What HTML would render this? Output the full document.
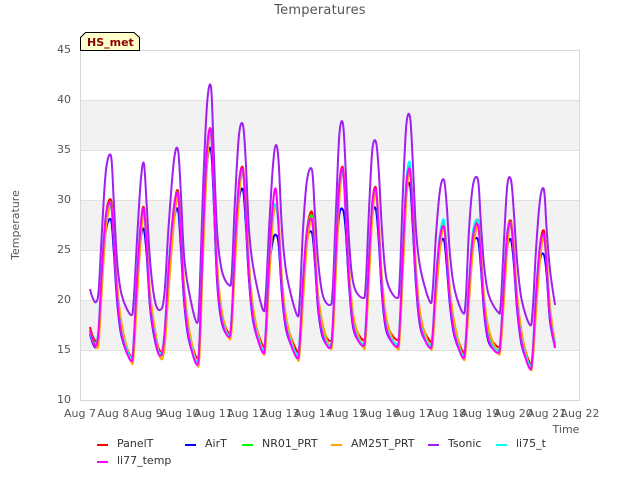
<!DOCTYPE html>
<html>
<head>
<meta charset="utf-8">
<title>Temperatures</title>
<style>
html,body{margin:0;padding:0;background:#fff;width:640px;height:480px;overflow:hidden}
svg{display:block}
text{font-family:"DejaVu Sans",sans-serif;fill:#555;font-size:11px}
.leg text{fill:#333}
</style>
</head>
<body>
<svg id="chart" width="640" height="480" viewBox="0 0 640 480" xmlns="http://www.w3.org/2000/svg">
<text x="320" y="14" text-anchor="middle" style="font-size:13px;letter-spacing:.2px">Temperatures</text>
<g id="bands"></g>
<g id="grid"></g>
<rect x="80.5" y="50.5" width="499" height="350" fill="none" stroke="#d8d8d8"/>
<g id="series"></g>
<g id="yticks"></g>
<g id="xticks"></g>
<text x="19" y="225" text-anchor="middle" transform="rotate(-90 19 225)">Temperature</text>
<text x="566" y="433" text-anchor="middle">Time</text>
<g>
<polygon points="80.5,50.5 80.5,37.5 85.5,32.5 134,32.5 139.5,37.5 139.5,50.5" fill="#ffffcc" stroke="#000" stroke-width="1"/>
<text x="87" y="46" style="font-size:11px;font-weight:bold;fill:#8b0000">HS_met</text>
</g>
<g class="leg">
<g><rect x="97" y="444" width="11" height="2" fill="#ff0000"/><text x="117" y="447">PanelT</text></g>
<g><rect x="185" y="444" width="11" height="2" fill="#0000ff"/><text x="205" y="447">AirT</text></g>
<g><rect x="242" y="444" width="11" height="2" fill="#00ff00"/><text x="262" y="447">NR01_PRT</text></g>
<g><rect x="331" y="444" width="11" height="2" fill="#ffa500"/><text x="351" y="447">AM25T_PRT</text></g>
<g><rect x="428" y="444" width="11" height="2" fill="#a020f0"/><text x="448" y="447">Tsonic</text></g>
<g><rect x="496" y="444" width="11" height="2" fill="#00ffff"/><text x="516" y="447">li75_t</text></g>
<g><rect x="97" y="461" width="11" height="2" fill="#ff00ff"/><text x="117" y="464">li77_temp</text></g>
</g>
</svg>
<script>
var xTickLabels = ["Aug 7","Aug 8","Aug 9","Aug 10","Aug 11","Aug 12","Aug 13","Aug 14","Aug 15","Aug 16","Aug 17","Aug 18","Aug 19","Aug 20","Aug 21","Aug 22"];
var yTickLabels = [10,15,20,25,30,35,40,45];
var times = [.30,.38,
.48,.56,.66,.78,.93,1.01,1.11,1.25,
1.53,1.61,1.71,1.83,1.92,2.00,2.10,2.24,
2.40,2.53,2.66,2.82,2.94,3.02,3.12,3.26,
3.51,3.59,3.69,3.81,3.93,4.01,4.11,4.25,
4.47,4.55,4.65,4.77,4.89,4.97,5.07,5.21,
5.49,5.57,5.67,5.79,5.88,5.96,6.06,6.20,
6.51,6.59,6.69,6.81,6.96,7.04,7.14,7.28,
7.50,7.58,7.68,7.78,7.89,7.97,8.07,8.21,
8.49,8.57,8.67,8.77,8.88,8.96,9.06,9.20,
9.51,9.59,9.69,9.79,9.90,9.98,10.08,10.22,
10.50,10.58,10.68,10.80,10.92,11.00,11.10,11.24,
11.49,11.57,11.67,11.79,11.94,12.02,12.12,12.26,
12.54,12.62,12.72,12.82,12.93,13.01,13.11,13.25,
13.50,13.58,13.68,13.80,13.92,14.00,14.10,14.25];
var panelT = [17.3,16.4,
15.9,17,22.8,28.6,30,26.8,21.3,17.2,
14.3,15.6,21.8,27.9,29.2,26,20.4,17,
14.9,16.2,22.9,29.3,30.9,27.2,21.3,17,
14.2,16.2,26,35,37,31.6,23.2,18.7,
16.7,18.2,25.1,31.8,33.2,29.5,23.3,18.5,
15.4,16.6,23.3,28.5,29.5,27.5,21.8,17.7,
14.9,15.7,21.4,27,28.8,25.2,20.3,17.2,
15.9,17.2,24.6,31.6,33.2,29.2,22.8,17.9,
16,17.1,23.6,29.8,31.2,27.6,21.8,17.7,
16,17.3,24.6,31.6,33.3,29.2,22.8,18,
15.9,16.5,21.6,26.4,27.8,25,20.6,17.2,
14.8,15.7,21.1,26.5,28,24.9,20.1,16.7,
15.3,16.1,21.4,26.7,27.9,25.2,20.4,16.4,
13.7,14.6,20.1,25.5,26.9,23.9,19,15.7];
var airT = [16.6,15.7,
15.3,16.8,22.5,27,28,25,20,16.3,
14,15.5,21.5,26.3,27,24.5,19.3,16.1,
14.4,16,22.6,28,29,25.5,20,16.1,
13.8,16,25.5,33.5,35,30,22,17.8,
16.4,18,24.8,30,31,27.8,22,17.6,
14.9,16.5,23,26,26.5,25.5,20.5,16.8,
14.4,15.6,21,26,26.7,24,19.2,16.3,
15.4,17,24.2,28.5,29,27,21.5,17,
15.6,17,23.3,28.5,29,26,20.5,16.8,
15.5,17.2,24.3,30.5,31.5,27.5,21.5,17.1,
15.4,16.4,21.3,25.3,26,23.5,19.4,16.3,
14.4,15.6,20.8,25.5,26,23.5,18.9,15.8,
14.9,16,21.2,25.3,26,23.8,19.2,15.5,
13.3,14.5,19.9,24,24.5,22.5,17.9,15.3];
var nr01 = [17,16.1,
15.6,17,23,28.4,29.7,26.3,20.8,16.8,
14.1,15.7,22,27.7,29,25.6,19.9,16.6,
14.6,16.2,23.1,29.2,30.7,26.8,20.8,16.6,
13.8,16.2,26.2,34.8,36.8,31.2,22.8,18.2,
16.5,18.2,25.3,31.6,33,29,22.8,18.1,
15,16.6,23.5,28.8,29.4,27.2,21.3,17.3,
14.5,15.7,21.6,26.8,28.4,24.9,19.8,16.8,
15.5,17.2,24.8,31.4,33,28.8,22.3,17.5,
15.6,17.1,23.8,29.6,31,27.3,21.3,17.3,
15.6,17.3,24.8,31.4,33.1,28.8,22.3,17.6,
15.5,16.5,21.8,26.2,27.5,24.6,20.1,16.8,
14.5,15.7,21.3,26.3,27.6,24.5,19.6,16.3,
15,16.1,21.6,26.5,27.7,24.8,19.9,16,
13.4,14.6,20.3,25.3,26.5,23.5,18.5,15.5];
var am25t = [16.9,15.9,
15.3,15.8,21.2,27.2,29.5,27,21.8,17.6,
13.9,14.5,20,26.4,28.8,26.3,20.9,17.2,
14.3,15,21,27.8,30.5,27.5,21.8,17.4,
13.6,14.8,24.2,33.4,36.8,32,24,19,
16.2,17.2,23.4,30.2,33,29.8,23.8,18.9,
14.8,15.6,21.6,28,29.2,27.9,22.2,18,
14.2,14.8,19.8,25.5,28.2,25.5,20.7,17.6,
15.2,16.2,22.9,30,33,29.6,23.3,18.3,
15.3,16.1,22,28.2,31,28,22.3,18,
15.2,16.2,23,30,33,29.6,23.3,18.4,
15.3,15.7,20.2,25,27.6,25.2,21,17.6,
14.2,14.9,19.6,25,27.5,25.2,20.5,17.1,
14.7,15.3,20,25.2,27.7,25.5,20.8,16.8,
13.2,13.9,18.7,24,26.5,24.2,19.4,15.6];
var tsonic = [21.1,20.2,
19.8,21,27,33,34.4,30,24,20.5,
18.5,20,26,32.2,33.6,29.5,24,20,
19,20.5,27.5,34,35,31,24.5,21,
17.7,21,31,39.5,41.3,35,27,23,
21.5,22.5,30,36.5,37.5,34,27,23,
19,20.5,27,33.5,35.5,33.7,27,22.5,
18.5,20,27,32,33,29,24,20.5,
19.5,21,29,36.5,37.6,33,26,21.5,
20.2,21.5,29,35,35.8,33,27,22,
20.2,22,31,37.5,38.3,34,27,23,
19.8,21,26.5,31,32,29.5,24.5,21,
18.7,20,27,31.5,32,28,23.5,20.5,
18.8,19.5,26,31.5,32,29,24,20,
17.5,19,25,30,31,27,23,19.5];
var li75 = [16.8,15.9,
15.5,17.4,23.6,28.6,29.4,26.1,20.7,16.7,
14.2,16,22.6,27.9,28.8,25.5,19.8,16.5,
14.6,16.6,23.7,29.4,30.5,26.6,20.7,16.5,
13.8,16.6,26.8,35.1,36.7,31,22.7,18.2,
16.5,18.6,25.9,31.8,32.8,28.9,22.7,18,
15,17,24.1,29,29.3,27.1,21.2,17.2,
14.5,16.1,22.2,27,28,24.8,19.7,16.7,
15.4,17.6,25.4,31.6,32.7,28.6,22.2,17.4,
15.6,17.5,24.4,29.8,30.8,27.1,21.2,17.2,
15.6,17.7,25.4,32,33.7,28.8,22.2,17.5,
15.4,16.9,22.4,26.6,28,24.5,20,16.7,
14.4,16.1,21.9,26.9,27.9,24.4,19.5,16.2,
14.9,16.5,22.2,26.8,27.5,24.6,19.8,15.9,
13.4,15,20.9,25.5,26.3,23.4,18.4,15.5];
var li77 = [17,16,
15.4,17.1,23.2,28.5,29.6,26,20.5,16.5,
13.9,15.7,22.2,27.8,29,25.3,19.6,16.3,
14.4,16.3,23.3,29.3,30.6,26.5,20.5,16.3,
13.5,16.3,26.4,35,36.9,31,22.5,18,
16.3,18.3,25.5,31.7,33,28.8,22.5,17.8,
14.7,16.7,23.7,29.7,31,27,21,17,
14.2,15.8,21.8,26.9,28,24.6,19.5,16.5,
15.2,17.3,25,31.5,33,28.5,22,17.2,
15.4,17.2,24,29.7,31,27,21,17,
15.3,17.4,25,31.5,33,28.5,22,17.3,
15.2,16.6,22,26.3,27.3,24.3,19.8,16.5,
14.2,15.8,21.5,26.4,27.5,24.2,19.3,16,
14.7,16.2,21.8,26.6,27.6,24.5,19.6,15.7,
13.1,14.7,20.5,25.4,26.5,23.2,18.2,15.2];

var NS = 'http://www.w3.org/2000/svg';
function xScale(d){ return 80 + d * (500 / 15); }
function yScale(v){ return 400 - (v - 10) * 10; }
function add(parent, tag, attrs){
  var el = document.createElementNS(NS, tag);
  for (var k in attrs) el.setAttribute(k, attrs[k]);
  document.getElementById(parent).appendChild(el);
  return el;
}
yTickLabels.forEach(function(v, i){
  if (v < 45 && i % 2 === 1) {
    var band = add('bands', 'rect', {x: 80, y: yScale(v + 5), width: 500, height: yScale(v) - yScale(v + 5), fill: '#f2f2f2'});
    
    
  }
  var line = add('grid', 'line', {x1: 80, x2: 580, y1: yScale(v) + .5, y2: yScale(v) + .5, stroke: '#e0e0e0'});
  
  
  var label = add('yticks', 'text', {x: 71, y: yScale(v) + 3, 'text-anchor': 'end'});
  
  
  label.textContent = v;
});
xTickLabels.forEach(function(t, i){
  var label = add('xticks', 'text', {x: xScale(i), y: 417, 'text-anchor': 'middle'});
  
  
  label.textContent = t;
});
function smoothPath(values){
  var p = values.map(function(v, i){ return [xScale(times[i]), yScale(v)]; });
  var d = 'M' + p[0][0].toFixed(1) + ' ' + p[0][1].toFixed(1);
  for (var i = 0; i < p.length - 1; i++) {
    var a = p[Math.max(i - 1, 0)], b = p[i], c = p[i + 1], e = p[Math.min(i + 2, p.length - 1)];
    var c1x = b[0] + (c[0] - a[0]) / 6, c1y = b[1] + (c[1] - a[1]) / 6;
    var c2x = c[0] - (e[0] - b[0]) / 6, c2y = c[1] - (e[1] - b[1]) / 6;
    d += 'C' + c1x.toFixed(1) + ' ' + c1y.toFixed(1) + ' ' + c2x.toFixed(1) + ' ' + c2y.toFixed(1) + ' ' + c[0].toFixed(1) + ' ' + c[1].toFixed(1);
  }
  return d;
}
function drawSeries(values, color, name){
  var line = add('series', 'path', {d: smoothPath(values), fill: 'none', stroke: color, 'stroke-width': 2, 'stroke-linejoin': 'round'});
  
  
}
drawSeries(panelT, '#ff0000', 'series-panelt');
drawSeries(airT, '#0000ff', 'series-airt');
drawSeries(nr01, '#00ff00', 'series-nr01-prt');
drawSeries(am25t, '#ffa500', 'series-am25t-prt');
drawSeries(tsonic, '#a020f0', 'series-tsonic');
drawSeries(li75, '#00ffff', 'series-li75-t');
drawSeries(li77, '#ff00ff', 'series-li77-temp');
</script>
</body>
</html>
